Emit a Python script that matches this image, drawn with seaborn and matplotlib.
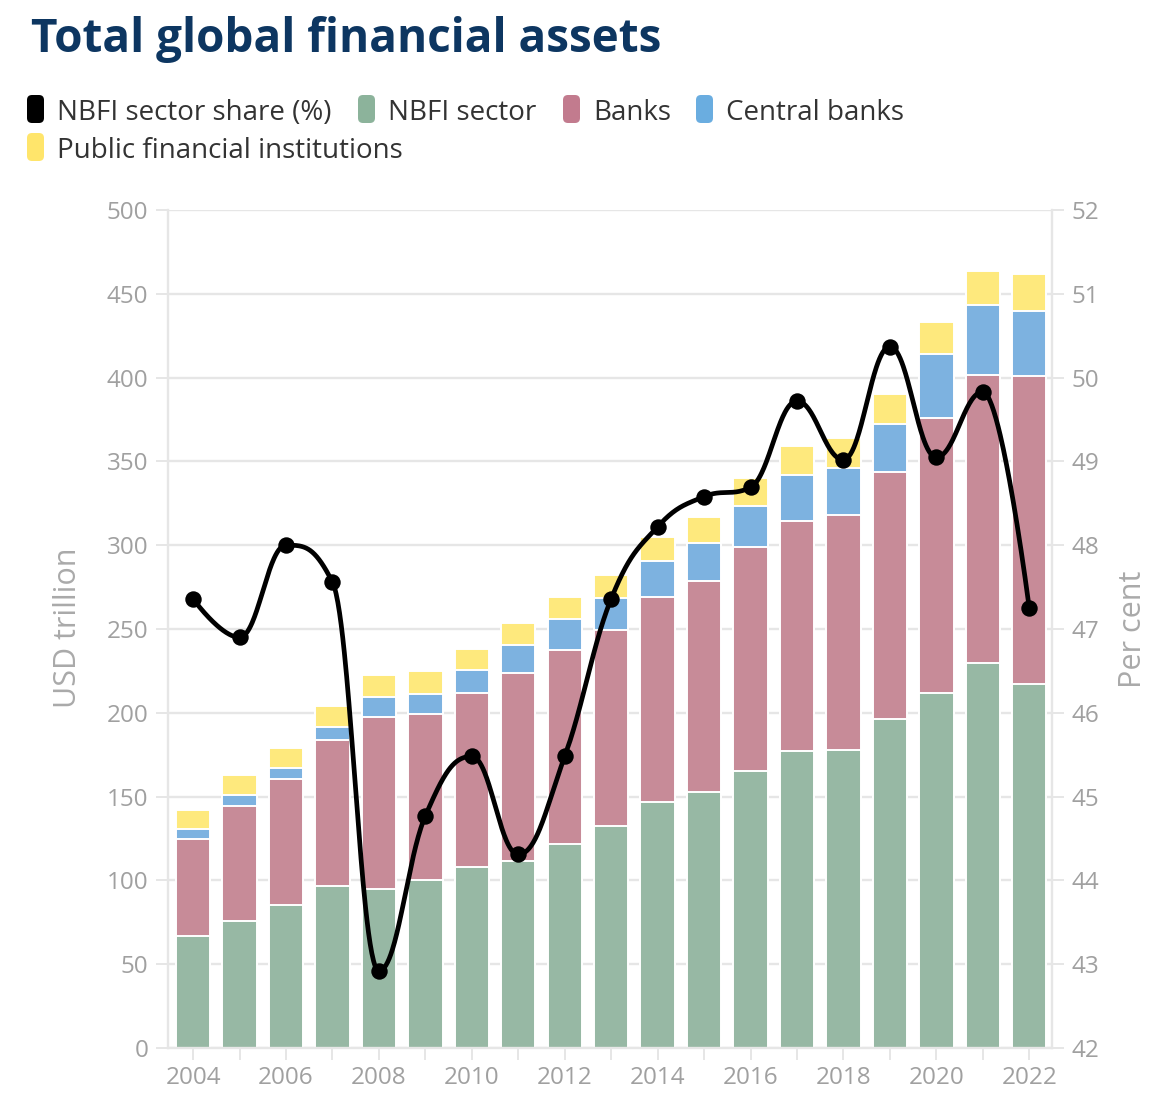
import numpy as np
import pandas as pd
import matplotlib
matplotlib.use("Agg")
import matplotlib.pyplot as plt
from matplotlib.patches import FancyBboxPatch
from matplotlib.transforms import IdentityTransform
import seaborn as sns

# ---------------- data ----------------
years = [str(y) for y in range(2004, 2023)]
nbfi = [67, 76, 85.5, 96.5, 95, 100, 108, 111.5, 121.5, 132.5, 146.5, 153, 165, 177.5, 178, 196.5, 212, 230, 217]
banks = [58, 68.6, 75, 87, 102.3, 99.3, 103.6, 112, 116, 117, 122.4, 125.6, 133.7, 137, 140, 147, 164, 171.6, 184]
central_banks = [5.6, 6.2, 6.8, 7.9, 12, 12.1, 13.8, 16.7, 18.3, 18.9, 21.7, 23, 24.9, 27.5, 27.9, 28.6, 38, 41.7, 39]
public_fi = [11.3, 12.1, 11.9, 12.7, 13.1, 13.5, 12.9, 13.1, 13.5, 13.9, 14.3, 15.3, 16.4, 17, 17.9, 18, 19.4, 20.3, 21.8]
nbfi_share = [47.36, 46.90, 48.0, 47.56, 42.92, 44.77, 45.48, 44.31, 45.48, 47.36, 48.22, 48.58, 48.69,
              49.72, 49.02, 50.37, 49.05, 49.83, 47.25]

left_ticks = list(range(0, 501, 50))
right_ticks = list(range(42, 53))

# ---------------- style ----------------
C_NBFI = "#97b8a4"
C_BANK = "#c78b98"
C_CB = "#7db2e0"
C_PFI = "#fee97d"
L_NBFI = "#8cb39b"
L_BANK = "#c27b8e"
L_CB = "#6aade0"
L_PFI = "#ffe56b"
GRID = "#e6e6e6"
TICK_TXT = "#a0a0a0"
AX_TITLE = "#aaaaaa"

sns.set_theme(style="white")
plt.rcParams["font.family"] = ["Open Sans", "DejaVu Sans"]

W, H = 1174, 1106
fig = plt.figure(figsize=(W / 100, H / 100), dpi=100)
ax = fig.add_axes([168 / W, 1 - 1048 / H, (1052 - 168) / W, (1048 - 210) / H])

df = pd.DataFrame({"year": years, "nbfi": nbfi, "banks": banks, "cb": central_banks, "pfi": public_fi})
df["c1"] = df["nbfi"]
df["c2"] = df["c1"] + df["banks"]
df["c3"] = df["c2"] + df["cb"]
df["c4"] = df["c3"] + df["pfi"]

for col, color in [("c4", C_PFI), ("c3", C_CB), ("c2", C_BANK), ("c1", C_NBFI)]:
    sns.barplot(data=df, x="year", y=col, color=color, saturation=1, width=0.74,
                edgecolor="white", linewidth=1.4, ax=ax, zorder=2)

ax.set_xlim(-0.54, 18.49)
ax.set_ylim(0, 500)
ax.set_yticks(left_ticks)
ax.set_yticklabels([str(t) for t in left_ticks])
ax.set_xticks(range(len(years)))
ax.set_xticklabels([y if i % 2 == 0 else "" for i, y in enumerate(years)])
ax.set_xlabel("")
ax.set_ylabel("")
ax.set_axisbelow(True)
ax.yaxis.grid(True, color=GRID, linewidth=1.7)
ax.xaxis.grid(False)
for s in ["top", "right"]:
    ax.spines[s].set_visible(False)
ax.spines["left"].set_color(GRID)
ax.spines["left"].set_linewidth(1.7)
ax.spines["bottom"].set_color(GRID)
ax.spines["bottom"].set_linewidth(1.7)
ax.tick_params(axis="y", length=8.6, width=1.4, color=GRID, pad=5.5, labelsize=17.5, labelcolor=TICK_TXT, left=True)
ax.tick_params(axis="x", length=8.6, width=1.4, color=GRID, pad=4, labelsize=17.5, labelcolor=TICK_TXT, bottom=True)

# ---------------- spline line ----------------
def hc_spline(xs, ys, smoothing=1.5, n=60):
    m = len(xs)
    rcx, rcy = list(xs), list(ys)
    lcx, lcy = list(xs), list(ys)
    denom = smoothing + 1
    for i in range(1, m - 1):
        px, py = xs[i], ys[i]
        lx, ly = xs[i - 1], ys[i - 1]
        nx, ny = xs[i + 1], ys[i + 1]
        lX = (smoothing * px + lx) / denom
        lY = (smoothing * py + ly) / denom
        rX = (smoothing * px + nx) / denom
        rY = (smoothing * py + ny) / denom
        corr = ((rY - lY) * (rX - px)) / (rX - lX) + py - rY
        lY += corr
        rY += corr
        if lY > ly and lY > py:
            lY = max(ly, py); rY = 2 * py - lY
        elif lY < ly and lY < py:
            lY = min(ly, py); rY = 2 * py - lY
        if rY > ny and rY > py:
            rY = max(ny, py); lY = 2 * py - rY
        elif rY < ny and rY < py:
            rY = min(ny, py); lY = 2 * py - rY
        lcx[i], lcy[i], rcx[i], rcy[i] = lX, lY, rX, rY
    t = np.linspace(0, 1, n)[:, None]
    out = []
    for i in range(1, m):
        P0 = np.array([xs[i - 1], ys[i - 1]])
        P1 = np.array([rcx[i - 1], rcy[i - 1]])
        P2 = np.array([lcx[i], lcy[i]])
        P3 = np.array([xs[i], ys[i]])
        seg = ((1 - t) ** 3) * P0 + 3 * ((1 - t) ** 2) * t * P1 + 3 * (1 - t) * (t ** 2) * P2 + (t ** 3) * P3
        out.append(seg if i == 1 else seg[1:])
    out = np.vstack(out)
    return out[:, 0], out[:, 1]

ax2 = ax.twinx()
xpos = np.arange(len(years), dtype=float)
sx, sy = hc_spline(list(xpos), nbfi_share)
ax2.plot(sx, sy, color="black", linewidth=3.4, solid_capstyle="round", zorder=3)
sns.scatterplot(x=xpos, y=nbfi_share, color="black", s=140, edgecolor="black", linewidth=0, ax=ax2, zorder=4)
ax2.set_ylim(42, 52)
ax2.set_xlim(-0.54, 18.49)
ax2.set_yticks(right_ticks)
ax2.set_yticklabels([str(t) for t in right_ticks])
ax2.grid(False)
for s in ["top", "left", "bottom"]:
    ax2.spines[s].set_visible(False)
ax2.spines["right"].set_color(GRID)
ax2.spines["right"].set_linewidth(1.7)
ax2.tick_params(axis="y", length=8.6, width=1.4, color=GRID, pad=5.5, labelsize=17.5, labelcolor=TICK_TXT, right=True)
ax2.set_ylabel("")

# ---------------- texts ----------------
fig.text(31 / W, 1 - 52 / H, "Total global financial assets", fontsize=33, fontweight="bold",
         color="#0d3661", ha="left", va="baseline")
fig.text(68 / W, 1 - 628 / H, "USD trillion", rotation=90, fontsize=22, color=AX_TITLE,
         ha="center", va="center")
fig.text(1133 / W, 1 - 629 / H, "Per cent", rotation=90, fontsize=22, color=AX_TITLE,
         ha="center", va="center")

legend_items = [
    ("NBFI sector share (%)", "#000000", 57, 120),
    ("NBFI sector", L_NBFI, 388, 120),
    ("Banks", L_BANK, 593, 120),
    ("Central banks", L_CB, 726, 120),
    ("Public financial institutions", L_PFI, 57, 158),
]
for label, color, tx, base in legend_items:
    mx = tx - 30
    top = base - 25
    patch = FancyBboxPatch((mx, H - (top + 28)), 17, 28,
                           boxstyle="round,pad=0,rounding_size=5",
                           transform=IdentityTransform(), facecolor=color, edgecolor="none")
    fig.add_artist(patch)
    fig.text(tx / W, 1 - base / H, label, fontsize=20, color="#333333", ha="left", va="baseline")

fig.savefig("out.png", dpi=100, facecolor="white")
